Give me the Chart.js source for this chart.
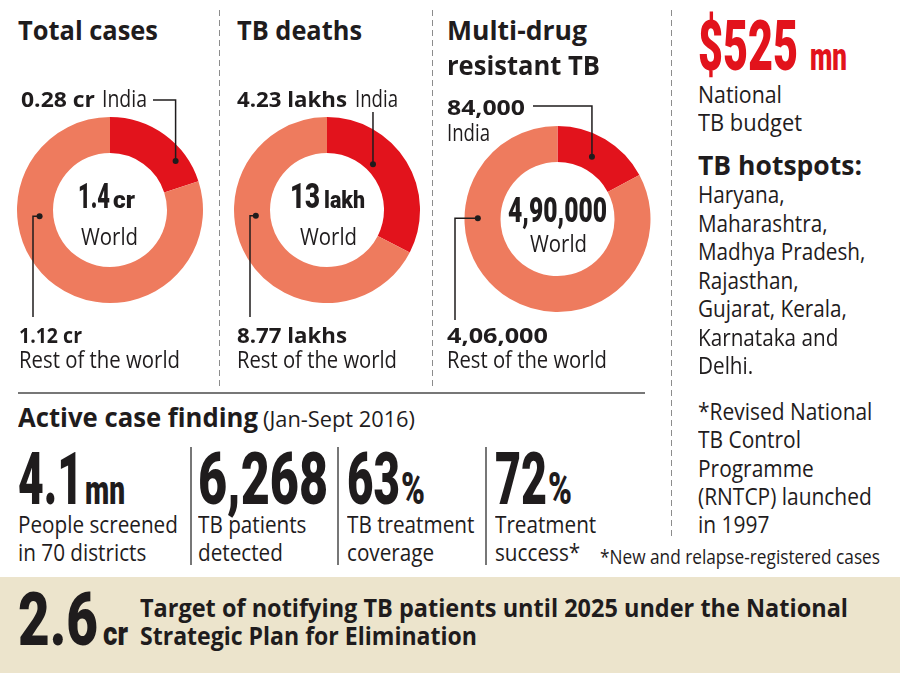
<!DOCTYPE html>
<html>
<head>
<meta charset="utf-8">
<script src="https://cdn.jsdelivr.net/npm/chart.js@4.4.1/dist/chart.umd.min.js"></script>
<style>
  body { margin: 0; background: #fff; }
  #page { position: relative; width: 900px; height: 673px; overflow: hidden; background: #fff; color: #1f1c1d; font-family: 'Open Sans', sans-serif; }
  .t { position: absolute; white-space: nowrap; line-height: 1; transform-origin: 0 0; }
  .bl { display: inline-block; width: 0; height: 0; }
  canvas { position: absolute; }
  .band { position: absolute; left: 0; top: 577px; width: 900px; height: 96px; background: #ece4cc; }
  .dash { position: absolute; width: 1px; background: repeating-linear-gradient(to bottom, #8c8c8c 0 6px, transparent 6px 10px); }
  .rule { position: absolute; background: #777; }
</style>
</head>
<body>
<div id="page">
  <div class="band"></div>
  <div class="dash" style="left:219px;top:10px;height:376px"></div>
  <div class="dash" style="left:432px;top:10px;height:376px"></div>
  <div class="dash" style="left:671px;top:10px;height:530px"></div>
  <div class="rule" style="left:18px;top:392px;width:627px;height:2px"></div>
  <div class="rule" style="left:190px;top:447px;width:1.5px;height:118px"></div>
  <div class="rule" style="left:337px;top:447px;width:1.5px;height:118px"></div>
  <div class="rule" style="left:485px;top:447px;width:1.5px;height:118px"></div>
  <canvas id="c1" width="218" height="260" style="left:0px;top:80px"></canvas>
  <canvas id="c2" width="208" height="260" style="left:222px;top:80px"></canvas>
  <canvas id="c3" width="236" height="260" style="left:434px;top:80px"></canvas>
</div>
<script>
// data
const regions = ['India', 'Rest of the world']
const totalCases = [0.28, 1.12]      // crore
const tbDeaths = [4.23, 8.77]        // lakh
const mdrCases = [84000, 406000]
const budget = 525                   // $ mn
const hotspots = ['Haryana,', 'Maharashtra,', 'Madhya Pradesh,', 'Rajasthan,', 'Gujarat, Kerala,', 'Karnataka and', 'Delhi.']
const statValues = ['4.1', '6,268', '63', '72']
const statUnits = ['mn', '', '%', '%']
const statLabels = [
  ['People screened', 'in 70 districts'],
  ['TB patients', 'detected'],
  ['TB treatment', 'coverage'],
  ['Treatment', 'success*'],
]
const target = 2.6                   // crore

const RED = '#e2131c'
const SALMON = '#ee7b5e'
const INK = '#1f1c1d'

const page = document.getElementById('page')
const H = "700 27px 'Open Sans'"
const B = "700 21px 'Open Sans'"
const R = "400 23px 'Open Sans'"
const heavy = (n) => `900 ${n}px Roboto`

function put(x, base, text, font, opt = {}) {
  const d = document.createElement('div')
  d.className = 't'
  d.style.font = font
  if (opt.color) d.style.color = opt.color
  d.textContent = text
  const m = document.createElement('span')
  m.className = 'bl'
  d.appendChild(m)
  page.appendChild(d)
  d.style.left = x + 'px'
  d.style.top = (base - m.offsetTop) + 'px'
  const cw = d.getBoundingClientRect().width
  const s = opt.w ? opt.w / cw : (opt.s || 1)
  if (s !== 1) d.style.transform = `scaleX(${s})`
}

const sum = (a) => Number((a[0] + a[1]).toFixed(2))
const inr = (n) => n.toLocaleString('en-IN')

// leader lines from a point inside a slice out to its label
const leaders = {
  id: 'leaders',
  afterDatasetsDraw(chart, args, opts) {
    const { ctx } = chart
    const arcs = chart.getDatasetMeta(0).data
    ctx.save()
    ctx.strokeStyle = INK
    ctx.fillStyle = INK
    ctx.lineWidth = 1.5
    opts.lines.forEach((l) => {
      const a = arcs[l.index]
      const ang = a.startAngle + l.along * (a.endAngle - a.startAngle)
      const r = a.innerRadius + l.depth * (a.outerRadius - a.innerRadius)
      let x = a.x + r * Math.cos(ang)
      let y = a.y + r * Math.sin(ang)
      ctx.beginPath()
      ctx.arc(x, y, 3, 0, Math.PI * 2)
      ctx.fill()
      ctx.beginPath()
      ctx.moveTo(x, y)
      l.path.forEach(([dir, v]) => {
        if (dir === 'h') x = v - opts.ox
        else y = v - opts.oy
        ctx.lineTo(x, y)
      })
      ctx.stroke()
    })
    ctx.restore()
  },
}

function donut(id, data, pad, ox, oy, lines) {
  return new Chart(document.getElementById(id), {
    type: 'doughnut',
    data: {
      labels: regions,
      datasets: [{ data, backgroundColor: [RED, SALMON], borderWidth: 0 }],
    },
    options: {
      responsive: false,
      animation: false,
      events: [],
      radius: 93,
      cutout: 57,
      layout: { padding: pad },
      plugins: {
        legend: { display: false },
        tooltip: { enabled: false },
        leaders: { ox, oy, lines },
      },
    },
    plugins: [leaders],
  })
}

donut('c1', totalCases, { left: 17, right: 15, top: 37, bottom: 37 }, 0, 80, [
  { index: 0, along: 0.74, depth: 0.69, path: [['v', 100], ['h', 153]] },
  { index: 1, along: 0.67, depth: 0.38, path: [['h', 33], ['v', 317]] },
])
donut('c2', tbDeaths, { left: 12, right: 10, top: 37, bottom: 37 }, 222, 80, [
  { index: 0, along: 0.385, depth: 0.22, path: [['v', 112]] },
  { index: 1, along: 0.61, depth: 0.4, path: [['h', 250], ['v', 317]] },
])
donut('c3', mdrCases, { left: 30.5, right: 19.5, top: 46, bottom: 28 }, 434, 80, [
  { index: 0, along: 0.47, depth: 0.39, path: [['v', 106], ['h', 533]] },
  { index: 1, along: 0.7, depth: 0.63, path: [['h', 455], ['v', 320]] },
])

// headings
put(18, 40, 'Total cases', H, { w: 140 })
put(237, 40, 'TB deaths', H, { w: 125 })
put(447, 40, 'Multi-drug', H, { w: 140 })
put(447, 75, 'resistant TB', H, { w: 153 })

// total cases
put(21, 107, totalCases[0] + ' cr', B, { w: 74 })
put(102, 107, 'India', R, { w: 45 })
put(78, 208, String(sum(totalCases)), heavy(35), { w: 32 })
put(113, 208, 'cr', heavy(24), { w: 22 })
put(81, 245, 'World', R, { w: 57 })
put(19, 343, totalCases[1] + ' cr', B, { w: 63 })
put(19, 368, 'Rest of the world', R, { w: 161 })

// deaths
put(237, 107, tbDeaths[0] + ' lakhs', B, { w: 110 })
put(355, 107, 'India', R, { w: 43 })
put(290, 208, String(sum(tbDeaths)), heavy(35), { w: 30 })
put(324, 208, 'lakh', heavy(24), { w: 41 })
put(300, 245, 'World', R, { w: 57 })
put(237, 343, tbDeaths[1] + ' lakhs', B, { w: 110 })
put(237, 368, 'Rest of the world', R, { w: 160 })

// MDR
put(447, 115, inr(mdrCases[0]), B, { w: 78 })
put(447, 141, 'India', R, { w: 43 })
put(508, 222, inr(mdrCases[0] + mdrCases[1]), heavy(35), { w: 99 })
put(530, 252, 'World', R, { w: 57 })
put(447, 343, inr(mdrCases[1]), B, { w: 101 })
put(447, 368, 'Rest of the world', R, { w: 160 })

// right column
put(698, 70, '$' + budget, heavy(70), { w: 100, color: RED })
put(810, 70, 'mn', heavy(38), { w: 37, color: RED })
put(698, 103, 'National', R, { w: 84 })
put(698, 131, 'TB budget', R, { w: 104 })
put(698, 175, 'TB hotspots:', H, { w: 164 })
hotspots.forEach((h, i) => put(698, 203 + i * 28.5, h, R, { s: 0.9 }))
const notes = ['*Revised National', 'TB Control', 'Programme', '(RNTCP) launched', 'in 1997']
notes.forEach((n, i) => put(698, 420 + i * 28.3, n, R, { s: 0.91 }))

// active case finding
put(18, 427, 'Active case finding', H, { w: 240 })
put(263, 427, '(Jan-Sept 2016)', "400 21px 'Open Sans'", { w: 152 })
const statX = [18, 198, 347, 495]
const statW = [65, 130, 53, 52]
const unitX = [85, 0, 401, 548]
statValues.forEach((v, i) => {
  put(statX[i], 504, v, heavy(73), { w: statW[i] })
  if (statUnits[i] === 'mn') put(unitX[i], 504, 'mn', heavy(40), { w: 40 })
  else if (statUnits[i]) put(unitX[i], 504, statUnits[i], heavy(45), { w: 24 })
  statLabels[i].forEach((t, j) => put(statX[i], 533 + j * 28, t, R, { s: 0.9 }))
})
put(600, 564, '*New and relapse-registered cases', "400 20px 'Open Sans'", { w: 280 })

// bottom band
put(18, 645, String(target), heavy(74), { w: 80 })
put(103, 645, 'cr', heavy(34), { w: 25 })
put(140, 617, 'Target of notifying TB patients until 2025 under the National', "700 25px 'Open Sans'", { w: 708 })
put(140, 645, 'Strategic Plan for Elimination', "700 25px 'Open Sans'", { w: 337 })
</script>
</body>
</html>
